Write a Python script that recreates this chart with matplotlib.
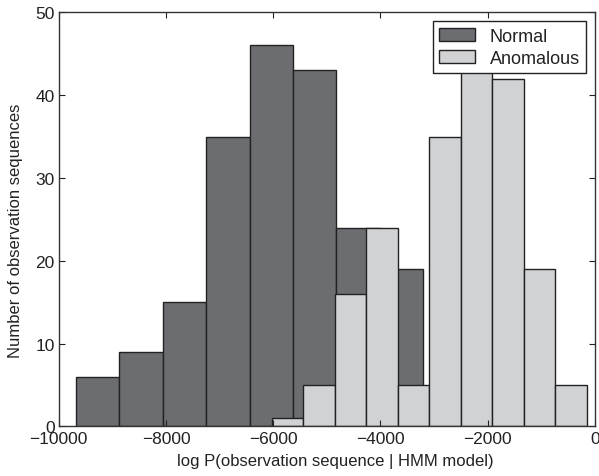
import matplotlib
matplotlib.use("Agg")
import matplotlib.pyplot as plt
import numpy as np

plt.rcParams['font.family'] = ['Liberation Sans', 'DejaVu Sans']

# Histogram bins and counts for each class
normal_edges = [-9680, -8870, -8060, -7250, -6440, -5630, -4820, -4010, -3200]
normal_counts = [6, 9, 15, 35, 46, 43, 24, 19]

anomalous_edges = [-6030, -5442, -4854, -4266, -3678, -3090, -2502, -1914, -1326, -738, -150]
anomalous_counts = [1, 5, 16, 24, 5, 35, 45, 42, 19, 5]

xticks = [-10000, -8000, -6000, -4000, -2000, 0]
yticks = [0, 10, 20, 30, 40, 50]

fig = plt.figure(figsize=(5.99, 4.77), dpi=100)
ax = fig.add_axes([0.098, 0.104, 0.8953, 0.868])

ne = np.array(normal_edges)
ae = np.array(anomalous_edges)
ax.bar(ne[:-1], normal_counts, width=np.diff(ne), align='edge',
       color='#6c6d71', edgecolor='#222222', linewidth=1.0, label='Normal')
ax.bar(ae[:-1], anomalous_counts, width=np.diff(ae), align='edge',
       color='#d1d2d4', edgecolor='#222222', linewidth=1.0, label='Anomalous')

ax.set_xlim(-10000, 0)
ax.set_ylim(0, 50)
ax.set_xticks(xticks)
ax.set_yticks(yticks)
ax.set_xticklabels(['\u2212' + str(abs(t)) if t < 0 else str(t) for t in xticks])
ax.tick_params(direction='in', top=True, right=True, length=4, width=0.8,
               labelsize=12.5, pad=3, colors='#222222')
for s in ax.spines.values():
    s.set_color('#333333')
    s.set_linewidth(1.0)

ax.set_xlabel('log P(observation sequence | HMM model)', fontsize=12, color='#222222')
ax.set_ylabel('Number of observation sequences', fontsize=12, color='#222222')
ax.xaxis.set_label_coords(0.516, -0.064)
ax.yaxis.set_label_coords(-0.066, 0.475)

leg = ax.legend(loc='upper right', fontsize=13, frameon=True, fancybox=False,
                borderaxespad=0.5, handlelength=2.0, handleheight=0.7,
                labelspacing=0.3, borderpad=0.35, handletextpad=0.8)
leg.get_frame().set_edgecolor('#222222')
leg.get_frame().set_linewidth(1.0)
leg.get_frame().set_alpha(1.0)
for t in leg.get_texts():
    t.set_color('#222222')

fig.savefig('out.png', dpi=100, facecolor='white')
